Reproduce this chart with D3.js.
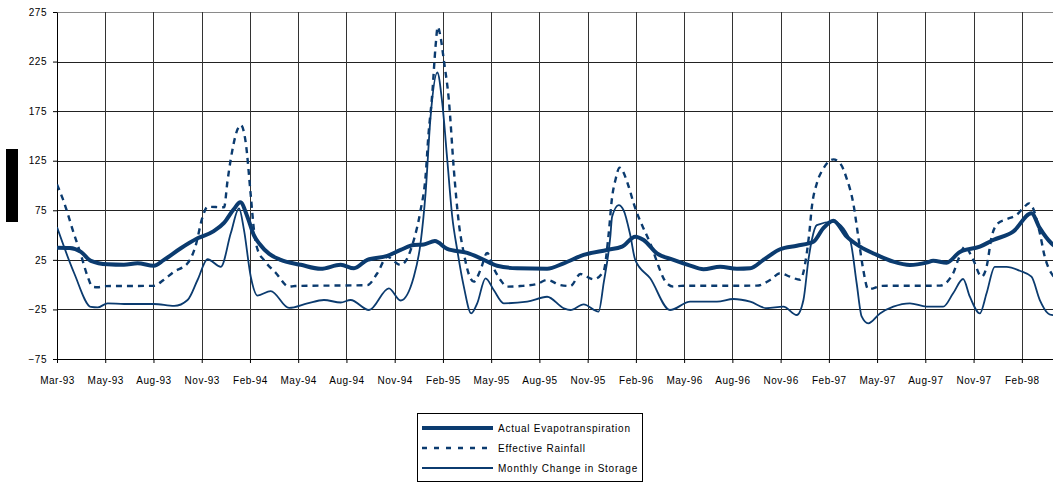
<!DOCTYPE html>
<html><head><meta charset="utf-8">
<script src="https://cdn.jsdelivr.net/npm/d3@7"></script>
<style>
body{margin:0;background:#fff;}
svg{display:block;}
</style>
</head><body>
<svg id="chart" width="1053" height="482"></svg>
<script>
// ---- data (t = months after Mar-93, value in mm) ----
const xTickLabels = ["Mar-93","May-93","Aug-93","Nov-93","Feb-94","May-94","Aug-94","Nov-94","Feb-95","May-95","Aug-95","Nov-95","Feb-96","May-96","Aug-96","Nov-96","Feb-97","May-97","Aug-97","Nov-97","Feb-98"];
const xTickMonths = [0,3,6,9,12,15,18,21,24,27,30,33,36,39,42,45,48,51,54,57,60];
const yTicks = [-75,-25,25,75,125,175,225,275];
const seriesNames = ["Actual Evapotranspiration","Effective Rainfall","Monthly Change in Storage"];

const aet = [[0,37.3],[0.8,37],[1.49,33],[2.11,24],[3.15,20.5],[4.16,20],[5.01,21.5],[6.02,19],[6.65,25],[7.7,36.7],[8.74,46.7],[9.75,54],[10.37,62],[10.99,76],[11.4,83],[11.84,68.5],[12.24,50],[12.6,41],[13.2,31],[13.91,25],[15.16,20],[16.4,16],[17.64,20],[18.47,16.5],[19.3,25],[20.54,29],[21.37,35],[22.19,40],[22.81,40.5],[23.5,44],[24.27,36],[25.51,32],[26.34,26.6],[27.37,19],[28.61,16.5],[30.48,16],[31.51,21.5],[32.75,30],[34.2,35],[35.14,38.3],[35.96,48.4],[36.48,45],[37.31,31.6],[38.34,25],[39.38,19.2],[40.2,15.5],[41.24,18],[42.28,16],[43.11,16.5],[43.93,25],[44.97,35.7],[46.01,39.3],[47.04,43.3],[47.66,57],[48.28,64.5],[49.11,48.4],[49.94,38.3],[50.98,30],[52.01,23.2],[53.04,19.8],[54.08,22.2],[54.49,24],[55.32,22.2],[56.15,33],[57.39,38.3],[58.22,45],[59.46,53.4],[60.6,72],[61.12,57],[61.84,41.7],[62.2,37]];

const rainfall = [[0,101],[0.35,87],[0.62,74],[0.98,55],[1.49,30],[1.91,8],[2.2,-2],[2.53,-2.6],[3.0,-1.5],[6.02,-1.2],[6.65,5],[7.27,13],[8.12,21.5],[8.6,38],[9.05,68],[9.36,78.5],[10.39,78],[10.6,104],[10.81,127],[11.43,161],[11.74,143],[12.05,90],[12.25,55],[12.48,35],[12.86,25],[13.6,12],[14.43,-2],[14.8,-1.4],[19.3,-0.5],[19.92,11.5],[20.54,28],[21.37,19.8],[22.19,45],[22.61,75],[22.92,109],[23.09,149],[23.34,193],[23.54,240],[23.68,260],[23.85,250],[24.06,226],[24.37,186],[24.68,116],[24.99,62],[25.3,31.6],[25.71,6.4],[25.92,3],[26.34,15],[26.75,32],[27.16,16.5],[27.58,4.7],[27.99,-2],[28.82,-1.4],[29.86,0.7],[30.48,4.7],[31.3,-0.4],[31.93,-1.4],[32.55,10.7],[33.37,5.4],[34.0,14],[34.3,50],[34.52,88],[34.72,105],[34.99,118],[35.55,99],[35.86,82],[36.89,41.7],[37.93,1.3],[38.34,-2],[38.8,-1.2],[43.52,-1],[44.35,4.7],[44.97,11.5],[45.59,8],[46.21,5],[46.63,32],[46.79,53],[46.94,78],[47.25,102],[47.66,117],[48.28,126.4],[48.7,122.4],[49.11,107],[49.52,82],[49.83,48.4],[50.14,15],[50.45,-4.7],[50.76,-3.7],[51.3,-1.2],[54.91,-1],[55.73,11.5],[56.04,25],[56.46,38.3],[56.98,25],[57.5,8],[57.81,18],[58.12,48],[58.53,62],[59.05,66],[59.67,70.3],[60.08,77],[60.45,82],[60.7,77],[61.12,52],[61.43,28],[61.84,11.5],[62.2,5]];

const storage = [[0,58],[1.07,11.5],[2.11,-22.5],[2.53,-23],[3.15,-18.8],[4.18,-19.5],[6.02,-19.5],[7.29,-21.5],[8.12,-15.5],[8.74,4.7],[9.36,25.6],[10.19,18],[10.81,52],[11.32,77],[11.63,55],[12.05,8],[12.47,-11],[13.29,-6.5],[14.43,-23.5],[15.57,-19],[16.6,-15.5],[17.64,-18],[18.26,-15.5],[19.4,-25.6],[20.64,-3.7],[21.37,-16],[22.19,8],[22.61,42],[22.92,92],[23.23,169],[23.65,214],[23.96,183],[24.27,126],[24.58,68.5],[24.89,35],[25.3,-2],[25.76,-29],[26.13,-19],[26.65,6.4],[27.16,-5.4],[27.78,-18.8],[29.24,-17.2],[30.48,-12.2],[31.51,-23.8],[31.93,-25.6],[32.75,-20],[33.68,-27.3],[34.0,2],[34.41,48.4],[34.52,68.5],[34.93,80.3],[35.24,75],[35.65,50],[35.96,25],[36.89,6.4],[38.12,-25.6],[39.38,-17.2],[41.04,-17.2],[42.07,-14.5],[43.11,-17.2],[44.14,-23.8],[45.17,-22.2],[46.01,-30.6],[46.42,-15.5],[46.73,25],[46.94,45],[47.25,60],[48.28,63.5],[49.32,45],[49.73,1.4],[50.04,-32],[50.45,-39],[51.18,-29],[52.01,-22.2],[53.04,-18.8],[54.08,-22.2],[55.11,-22.2],[55.73,-8.7],[56.35,5.7],[56.77,-12.2],[57.39,-29],[57.81,-8.7],[58.32,18],[59.05,18],[59.88,14],[60.6,8],[61.12,-15.5],[61.63,-29],[61.84,-30.6],[62.2,-31]];

// ---- drawing ----
const FONT = '"Liberation Sans", Arial, sans-serif';
const LINE = "#0b3b6f";
const svg = d3.select("#chart");
const plot = {left:57, right:1053, top:12, bottom:359};
const x = d3.scaleLinear().domain([0, 61.94]).range([plot.left, plot.right]);
const y = d3.scaleLinear().domain([-75, 275]).range([plot.bottom, plot.top]);

// grid
const grid = svg.append("g");
grid.selectAll("line.h").data(yTicks.slice(1)).join("line")
  .attr("x1", plot.left).attr("x2", plot.right)
  .attr("y1", d => Math.round(y(d)) + 0.5).attr("y2", d => Math.round(y(d)) + 0.5)
  .attr("stroke", d => d === 275 ? "#8a8a8a" : "#222").attr("stroke-width", 1);
grid.selectAll("line.v").data(xTickMonths.slice(1)).join("line")
  .attr("x1", d => Math.round(x(d)) + 0.5).attr("x2", d => Math.round(x(d)) + 0.5)
  .attr("y1", plot.top).attr("y2", plot.bottom)
  .attr("stroke", "#333").attr("stroke-width", 1);

// axes
const xAxis = svg.append("g").attr("transform", `translate(0,${plot.bottom})`)
  .call(d3.axisBottom(x).tickValues(xTickMonths).tickFormat((d, i) => xTickLabels[i]).tickSize(4).tickSizeOuter(0).tickPadding(14));
const yAxis = svg.append("g").attr("transform", `translate(${plot.left},0)`)
  .call(d3.axisLeft(y).tickValues(yTicks).tickSize(4).tickSizeOuter(0).tickPadding(6));
[xAxis, yAxis].forEach(g => {
  g.attr("font-family", FONT).attr("font-size", 10);
  g.selectAll("path.domain").attr("stroke", "#000");
  g.selectAll(".tick line").attr("stroke", "#000");
  g.selectAll("text").attr("fill", "#000").style("letter-spacing", "0.5px");
});

// y axis title placeholder (black block)
svg.append("rect").attr("x", 6).attr("y", 149).attr("width", 12).attr("height", 73).attr("fill", "#000");

// lines
svg.append("defs").append("clipPath").attr("id", "clip")
  .append("rect").attr("x", plot.left).attr("y", 0).attr("width", plot.right - plot.left).attr("height", plot.bottom);
const line = d3.line().x(d => x(d[0])).y(d => y(d[1])).curve(d3.curveMonotoneX);
const lines = svg.append("g").attr("clip-path", "url(#clip)").attr("fill", "none");
lines.append("path").datum(aet).attr("d", line).attr("stroke", LINE).attr("stroke-width", 4).attr("stroke-linejoin", "round");
lines.append("path").datum(rainfall).attr("d", line).attr("stroke", LINE).attr("stroke-width", 2.4).attr("stroke-dasharray", "6,5");
lines.append("path").datum(storage).attr("d", line).attr("stroke", LINE).attr("stroke-width", 1.8).attr("stroke-linejoin", "round");

// legend
const leg = svg.append("g").attr("font-family", FONT).attr("font-size", 10);
leg.append("rect").attr("x", 417.5).attr("y", 413.5).attr("width", 225).attr("height", 68)
  .attr("fill", "#fff").attr("stroke", "#000").attr("stroke-width", 1);
const legStyles = [
  {w: 4, dash: null},
  {w: 2.4, dash: "5,7"},
  {w: 1.8, dash: null}
];
const legRows = [428, 448, 468];
seriesNames.forEach((name, i) => {
  leg.append("line").attr("x1", 422).attr("x2", 493).attr("y1", legRows[i]).attr("y2", legRows[i])
    .attr("stroke", LINE).attr("stroke-width", legStyles[i].w)
    .attr("stroke-dasharray", legStyles[i].dash);
  leg.append("text").attr("x", 498).attr("y", legRows[i]).attr("dy", "0.35em")
    .attr("fill", "#000").style("letter-spacing", "0.75px").text(name);
});
</script>
</body></html>
